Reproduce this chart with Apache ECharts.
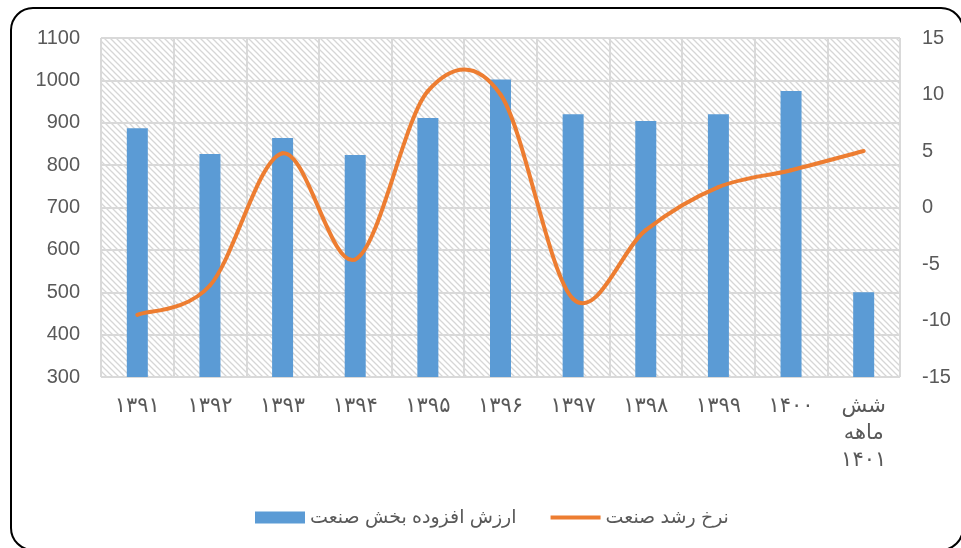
<!DOCTYPE html>
<html>
<head>
<meta charset="utf-8">
<script src="https://cdn.jsdelivr.net/npm/echarts@6/dist/echarts.min.js"></script>
<style>
html, body {margin: 0; padding: 0; background: #fff;}
#chart {width: 961px; height: 548px;}
</style>
</head>
<body>
<div id="chart"></div>
<script>
// سال‌ها
const years = ['۱۳۹۱', '۱۳۹۲', '۱۳۹۳', '۱۳۹۴', '۱۳۹۵', '۱۳۹۶', '۱۳۹۷', '۱۳۹۸', '۱۳۹۹', '۱۴۰۰', 'شش\nماهه\n۱۴۰۱'];
// ارزش افزوده بخش صنعت
const value_added = [887, 826, 864, 824, 911, 1002, 920, 904, 920, 975, 500];
// نرخ رشد صنعت (درصد)
const growth_rate = [-9.5, -6.9, 4.8, -4.6, 10.3, 10.0, -8.1, -2.0, 1.8, 3.3, 5.0];

const bar_name = 'ارزش افزوده بخش صنعت';
const line_name = 'نرخ رشد صنعت';

const font = "'Liberation Sans', 'DejaVu Sans', sans-serif";
const text_color = '#595959';
const grid_color = '#d9d9d9';
const line_color = '#ed7d31';

function make_hatch() {
    let c = document.createElement('canvas');
    c.width = 6;
    c.height = 6;
    let ctx = c.getContext('2d');
    ctx.fillStyle = '#ffffff';
    ctx.fillRect(0, 0, 6, 6);
    ctx.strokeStyle = '#d6d6d6';
    ctx.lineWidth = 1.3;
    ctx.beginPath();
    ctx.moveTo(-1, -1);
    ctx.lineTo(7, 7);
    ctx.moveTo(-4, 2);
    ctx.lineTo(4, 10);
    ctx.moveTo(2, -4);
    ctx.lineTo(10, 4);
    ctx.stroke();
    return c;
}

// Excel-style smoothed line (Catmull-Rom -> bezier), drawn once through the axis scales
function render_growth_curve(params, api) {
    if (params.dataIndex !== 0) {
        return;
    }
    let pts = growth_rate.map(function (v, i) {
        return api.coord([i, v]);
    });
    let children = [];
    for (let i = 0; i < pts.length - 1; i++) {
        let p0 = pts[i - 1] || pts[i];
        let p1 = pts[i];
        let p2 = pts[i + 1];
        let p3 = pts[i + 2] || pts[i + 1];
        children.push({
            type: 'bezierCurve',
            shape: {
                x1: p1[0], y1: p1[1],
                cpx1: p1[0] + (p2[0] - p0[0]) / 6,
                cpy1: p1[1] + (p2[1] - p0[1]) / 6,
                cpx2: p2[0] - (p3[0] - p1[0]) / 6,
                cpy2: p2[1] - (p3[1] - p1[1]) / 6,
                x2: p2[0], y2: p2[1]
            },
            style: {fill: 'none', stroke: line_color, lineWidth: 4, lineCap: 'round'}
        });
    }
    return {type: 'group', children: children};
}

let chart = echarts.init(document.getElementById('chart'), null, {renderer: 'canvas'});

let option = {
    animation: false,
    textStyle: {fontFamily: font},
    graphic: [{
        type: 'rect',
        shape: {x: 11, y: 8, width: 952, height: 542, r: 22},
        style: {fill: 'none', stroke: '#000', lineWidth: 2},
        z: 100
    }],
    grid: {
        left: 101, right: 61, top: 38, bottom: 171,
        show: true,
        borderWidth: 0,
        backgroundColor: {image: make_hatch(), repeat: 'repeat'}
    },
    legend: {
        left: 250, top: 503,
        itemGap: 34,
        itemWidth: 50,
        itemHeight: 12,
        textStyle: {color: text_color, fontSize: 19, fontFamily: font},
        data: [
            {name: bar_name, icon: 'rect'},
            {name: line_name, icon: 'path://M0,0L0.01,0M0,4L50,4L50,8L0,8ZM0,12L0.01,12'}
        ]
    },
    xAxis: {
        type: 'category',
        data: years,
        axisLine: {lineStyle: {color: grid_color, width: 2}},
        axisTick: {show: true, length: 12, lineStyle: {color: grid_color, width: 2}},
        splitLine: {show: true, lineStyle: {color: grid_color, width: 2}},
        axisLabel: {
            color: text_color, fontSize: 21, margin: 16, lineHeight: 27,
            fontFamily: font, interval: 0
        }
    },
    yAxis: [{
        type: 'value',
        min: 300, max: 1100, interval: 100,
        axisLine: {show: false},
        axisTick: {show: false},
        splitLine: {lineStyle: {color: grid_color, width: 2}},
        axisLabel: {
            color: text_color, fontSize: 20, margin: 21, fontFamily: font,
            formatter: function (v) {
                return String(v);
            }
        }
    }, {
        type: 'value',
        min: -15, max: 15, interval: 5,
        axisLine: {show: false},
        axisTick: {show: false},
        splitLine: {show: false},
        axisLabel: {
            color: text_color, fontSize: 20, margin: 22, fontFamily: font,
            formatter: function (v) {
                return String(v);
            }
        }
    }],
    series: [{
        name: bar_name,
        type: 'bar',
        data: value_added,
        barWidth: 21,
        itemStyle: {color: '#5b9bd5'},
        z: 2
    }, {
        name: line_name,
        type: 'custom',
        yAxisIndex: 1,
        data: growth_rate.map(function (v, i) {
            return [i, v];
        }),
        encode: {x: 0, y: 1},
        renderItem: render_growth_curve,
        itemStyle: {color: line_color},
        z: 3
    }]
};

chart.setOption(option);
</script>
</body>
</html>
